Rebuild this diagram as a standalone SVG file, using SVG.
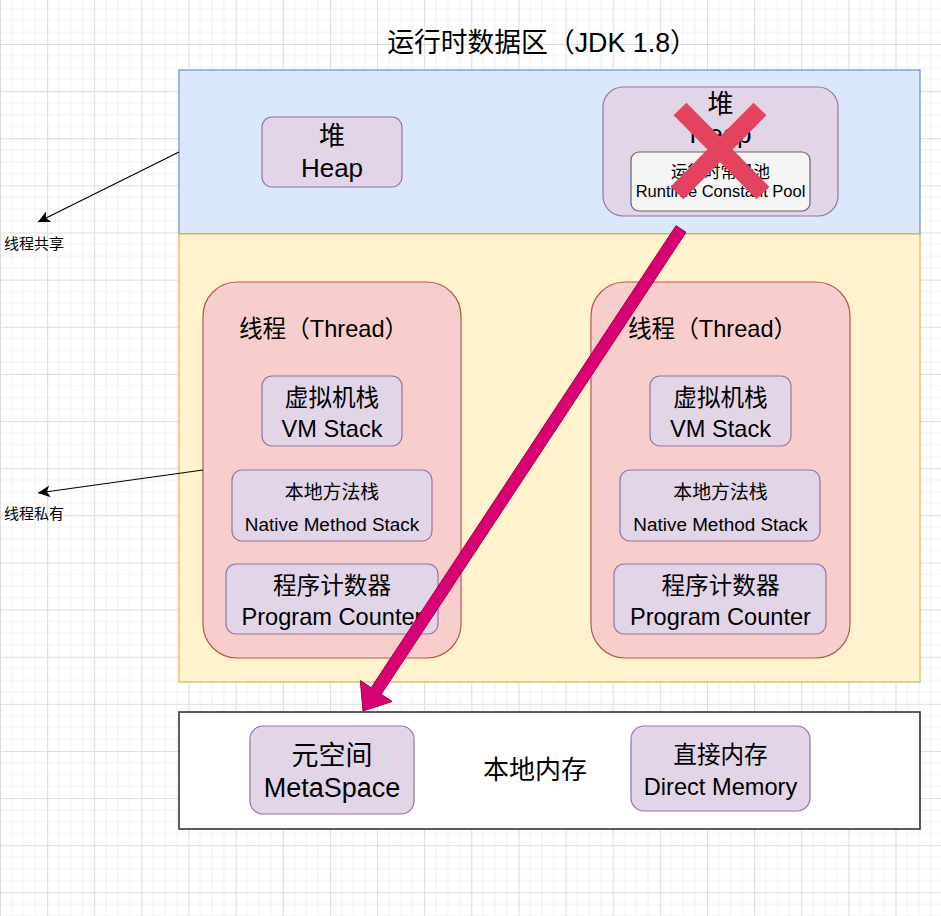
<svg xmlns="http://www.w3.org/2000/svg" width="941" height="916" viewBox="0 0 941 916">
<defs>
<pattern id="grid" patternUnits="userSpaceOnUse" x="0" y="44" width="47.13" height="47.13">
<rect width="47.13" height="47.13" fill="#ffffff"/>
<g stroke="#f1f1f1" stroke-width="1">
<line x1="11.78" y1="0" x2="11.78" y2="47.13"/>
<line x1="23.57" y1="0" x2="23.57" y2="47.13"/>
<line x1="35.35" y1="0" x2="35.35" y2="47.13"/>
<line x1="0" y1="11.78" x2="47.13" y2="11.78"/>
<line x1="0" y1="23.57" x2="47.13" y2="23.57"/>
<line x1="0" y1="35.35" x2="47.13" y2="35.35"/>
</g>
<g stroke="#dcdcdc" stroke-width="1">
<line x1="0.5" y1="0" x2="0.5" y2="47.13"/>
<line x1="0" y1="0.5" x2="47.13" y2="0.5"/>
</g>
</pattern>
<marker id="ah" markerUnits="userSpaceOnUse" markerWidth="14" markerHeight="12" refX="12" refY="6" orient="auto">
<path d="M0,0 L12,6 L0,12 L3,6 Z" fill="#000"/>
</marker>
<style>
text{font-family:"Liberation Sans","Noto Sans CJK SC",sans-serif;fill:#000;}
.c{text-anchor:middle;}
.purple{fill:#e1d5e7;stroke:#9673a6;stroke-width:1.2;}
.thread{fill:#f8cecc;stroke:#b85450;stroke-width:1.2;}
.f26{font-size:26px;}
.f24{font-size:23.6px;}
.f19{font-size:18.9px;}
.f16{font-size:16.5px;}
.f15{font-size:15px;}
</style>
</defs>
<rect width="941" height="916" fill="url(#grid)"/>

<text class="c" style="font-size:26.8px" x="542" y="52">运行时数据区（JDK 1.8）</text>

<g id="shared-area">
<rect x="179" y="70" width="741" height="164" fill="#dae8fc" stroke="#6c8ebf" stroke-width="1.2"/>
</g>
<g id="private-area">
<rect x="179" y="234" width="741" height="448" fill="#fff2cc" stroke="#d6b656" stroke-width="1.2"/>
</g>
<g id="native-memory">
<rect x="179" y="712" width="741" height="117" fill="#ffffff" stroke="#333333" stroke-width="1.6"/>
<text class="c f26" x="535" y="779">本地内存</text>
</g>

<g id="heap-left">
<rect class="purple" x="262" y="117" width="140" height="70" rx="10"/>
<text class="c f26" x="332" y="145">堆</text>
<text class="c f26" x="332" y="177">Heap</text>
</g>

<g id="heap-right">
<rect class="purple" x="603" y="87" width="235" height="129" rx="20"/>
<text class="c f26" x="720.5" y="113">堆</text>
<text class="c f26" x="720.5" y="143">Heap</text>
</g>
<g id="runtime-constant-pool">
<rect x="631" y="152" width="179" height="59" rx="8" fill="#f5f5f5" stroke="#666666" stroke-width="1.2"/>
<text class="c f16" x="720.5" y="178" fill="#333">运行时常量池</text>
<text class="c f16" x="720.5" y="197" fill="#333">Runtime Constant Pool</text>
</g>
<g id="red-x">
<line x1="680" y1="109" x2="763" y2="193" stroke="#e4435f" stroke-width="18"/>
<line x1="760" y1="109" x2="677" y2="193" stroke="#e4435f" stroke-width="18"/>
</g>

<g id="thread-left">
<rect class="thread" x="203" y="282" width="258" height="376" rx="34"/>
<text class="f24" x="239" y="337">线程（Thread）</text>
</g>
<g id="vmstack-left">
<rect class="purple" x="262" y="376" width="140" height="70" rx="10"/>
<text class="c f24" x="332" y="406">虚拟机栈</text>
<text class="c f24" x="332" y="437">VM Stack</text>
</g>
<g id="native-stack-left">
<rect class="purple" x="232" y="470" width="200" height="71" rx="10"/>
<text class="c f19" x="332" y="499">本地方法栈</text>
<text class="c f19" x="332" y="531">Native Method Stack</text>
</g>
<g id="pc-left">
<rect class="purple" x="226" y="564" width="212" height="70" rx="10"/>
<text class="c f24" x="332" y="594">程序计数器</text>
<text class="c f24" x="332" y="625">Program Counter</text>
</g>

<g id="thread-right">
<rect class="thread" x="591" y="282" width="259" height="376" rx="34"/>
<text class="f24" x="628" y="337">线程（Thread）</text>
</g>
<g id="vmstack-right">
<rect class="purple" x="650" y="376" width="141" height="70" rx="10"/>
<text class="c f24" x="720.5" y="406">虚拟机栈</text>
<text class="c f24" x="720.5" y="437">VM Stack</text>
</g>
<g id="native-stack-right">
<rect class="purple" x="620" y="470" width="200" height="71" rx="10"/>
<text class="c f19" x="720.5" y="499">本地方法栈</text>
<text class="c f19" x="720.5" y="531">Native Method Stack</text>
</g>
<g id="pc-right">
<rect class="purple" x="614" y="564" width="212" height="70" rx="10"/>
<text class="c f24" x="720.5" y="594">程序计数器</text>
<text class="c f24" x="720.5" y="625">Program Counter</text>
</g>

<g id="metaspace">
<rect class="purple" x="250" y="726" width="164" height="88" rx="13"/>
<text class="c" style="font-size:27px" x="332" y="765">元空间</text>
<text class="c" style="font-size:27px" x="332" y="797">MetaSpace</text>
</g>
<g id="direct-memory">
<rect class="purple" x="631" y="726" width="179" height="85" rx="13"/>
<text class="c f24" x="720.5" y="763">直接内存</text>
<text class="c f24" x="720.5" y="795">Direct Memory</text>
</g>

<g id="label-shared">
<text class="f15" x="4" y="249">线程共享</text>
</g>
<g id="label-private">
<text class="f15" x="4" y="519">线程私有</text>
</g>

<g id="connectors">
<line x1="179" y1="152" x2="38" y2="222" stroke="#000" stroke-width="1.2" marker-end="url(#ah)"/>
<line x1="203" y1="470" x2="38" y2="493" stroke="#000" stroke-width="1.2" marker-end="url(#ah)"/>
<polygon points="676,225.7 371.2,687.7 360.3,680.5 363,711 392.1,701.5 381.2,694.3 686,232.3" fill="#d80073" stroke="#a50040" stroke-width="1"/>
</g>
</svg>
